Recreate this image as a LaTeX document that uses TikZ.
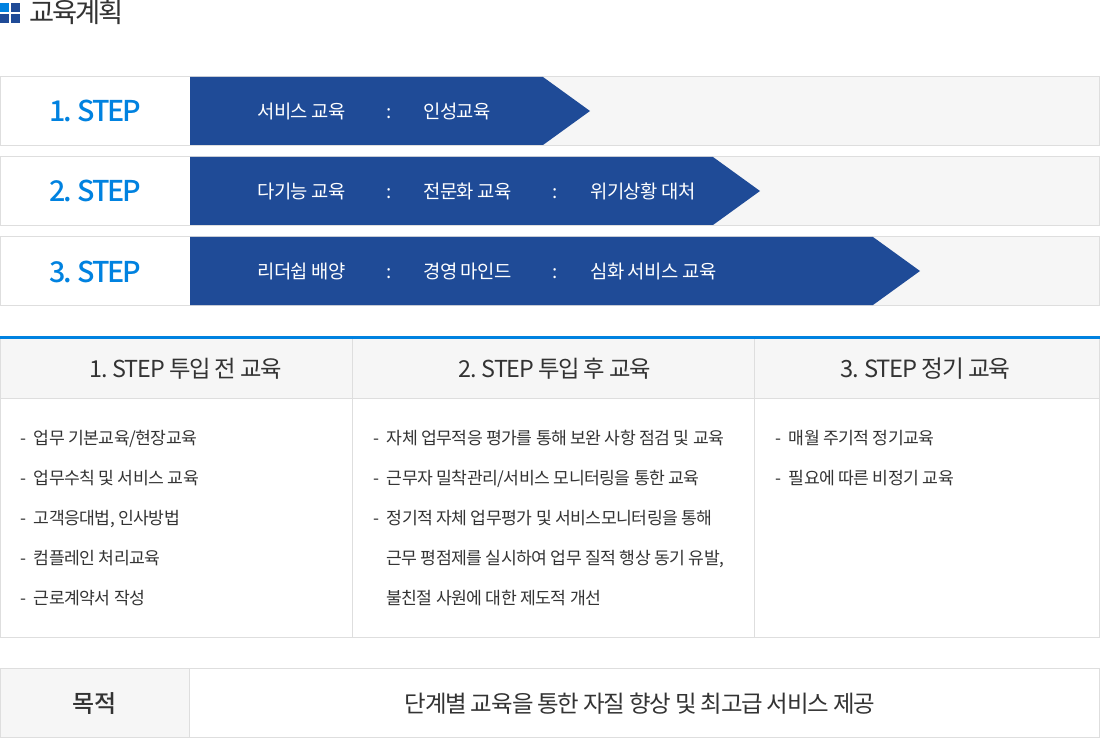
\documentclass[tikz,border=0pt]{standalone}
\usepackage{fontspec}
\setmainfont{Noto Sans CJK KR}
\newfontfamily\kr[LetterSpace=-3]{Noto Sans CJK KR}
\newfontfamily\krt[LetterSpace=-4.5,WordSpace=0.9]{Noto Sans CJK KR}
\newfontfamily\krh[LetterSpace=-8]{Noto Sans CJK KR}
\newfontfamily\krs[LetterSpace=-7,WordSpace=0.75]{Noto Sans CJK KR Medium}
\newfontfamily\krm[LetterSpace=-3]{Noto Sans CJK KR Medium}
\definecolor{navy}{HTML}{1F4B97}
\definecolor{sky}{HTML}{0082E0}
\definecolor{edge}{HTML}{DEDEDE}
\definecolor{pale}{HTML}{F6F6F6}
\definecolor{ink}{HTML}{333333}
\newcommand{\dsh}{-\hspace{5.6pt}}
\tikzset{
 txt/.style={inner sep=0pt,text=ink,font=\kr\fontsize{12.9}{14}\selectfont},
 ltxt/.style={txt,anchor=base west},
 wtxt/.style={ltxt,text=white,font=\kr\fontsize{14.1}{15}\selectfont},
 steplabel/.style={inner sep=0pt,text=sky,anchor=base,font=\krs\fontsize{21.5}{24}\selectfont},
 headlabel/.style={inner sep=0pt,text=ink,anchor=base,font=\krt\fontsize{17.5}{20}\selectfont},
 frame/.style={draw=edge,line width=0.75pt},
 bar/.style={fill=navy,draw=none},
}
\begin{document}
\begin{tikzpicture}[x=0.75pt,y=-0.75pt]
\useasboundingbox (0,0) rectangle (1100,738);
% title icon
\fill[sky] (0,3) rectangle (9,12);
\fill[navy] (11,3) rectangle (20,12);
\fill[navy] (0,14) rectangle (9,23);
\fill[navy] (11,14) rectangle (20,23);
\node[ltxt,font=\krh\fontsize{20.5}{24}\selectfont] (title) at (29,23) {교육계획};
% steps
\draw[frame,fill=pale] (0.5,76.5) rectangle (1099.5,145.5);
\fill[white] (1,77) rectangle (190,145);
\fill[bar] (190,77) -- (543,77) -- (590,111) -- (543,145) -- (190,145) -- cycle;
\node[steplabel] (s1) at (95.5,122) {1. STEP};
\node[wtxt] (s1a) at (257,118.5) {서비스 교육};
\node[wtxt] (s1c) at (386,118.5) {:};
\node[wtxt] (s1b) at (423,118.5) {인성교육};

\draw[frame,fill=pale] (0.5,156.5) rectangle (1099.5,225.5);
\fill[white] (1,157) rectangle (190,225);
\fill[bar] (190,157) -- (713,157) -- (760,191) -- (713,225) -- (190,225) -- cycle;
\node[steplabel] (s2) at (95.5,202) {2. STEP};
\node[wtxt] (s2a) at (257,198.5) {다기능 교육};
\node[wtxt] (s2c) at (386,198.5) {:};
\node[wtxt] (s2b) at (423,198.5) {전문화 교육};
\node[wtxt] (s2d) at (552,198.5) {:};
\node[wtxt] (s2e) at (590,198.5) {위기상황 대처};

\draw[frame,fill=pale] (0.5,236.5) rectangle (1099.5,305.5);
\fill[white] (1,237) rectangle (190,305);
\fill[bar] (190,237) -- (873,237) -- (920,271) -- (873,305) -- (190,305) -- cycle;
\node[steplabel] (s3) at (95.5,282) {3. STEP};
\node[wtxt] (s3a) at (257,278.5) {리더쉽 배양};
\node[wtxt] (s3c) at (386,278.5) {:};
\node[wtxt] (s3b) at (423,278.5) {경영 마인드};
\node[wtxt] (s3d) at (552,278.5) {:};
\node[wtxt] (s3e) at (590,278.5) {심화 서비스 교육};
% table
\fill[pale] (0,339) rectangle (1100,398);
\draw[frame] (0.5,339) -- (0.5,637.5) -- (1099.5,637.5) -- (1099.5,339);
\draw[frame] (0.5,398.5) -- (1099.5,398.5);
\draw[frame] (352.5,339) -- (352.5,637.5);
\draw[frame] (754.5,339) -- (754.5,637.5);
\fill[sky] (0,336) rectangle (1100,339);
\node[headlabel] (h1) at (185.5,377) {1. STEP 투입 전 교육};
\node[headlabel] (h2) at (554.5,377) {2. STEP 투입 후 교육};
\node[headlabel,font=\krt\fontsize{17.8}{20}\selectfont] (h3) at (925.5,377) {3. STEP 정기 교육};
\node[ltxt] (a1) at (20,444) {\dsh 업무 기본교육/현장교육};
\node[ltxt] (a2) at (20,484) {\dsh 업무수칙 및 서비스 교육};
\node[ltxt] (a3) at (20,524) {\dsh 고객응대법, 인사방법};
\node[ltxt] (a4) at (20,564) {\dsh 컴플레인 처리교육};
\node[ltxt] (a5) at (20,604) {\dsh 근로계약서 작성};
\node[ltxt] (b1) at (373,444) {\dsh 자체 업무적응 평가를 통해 보완 사항 점검 및 교육};
\node[ltxt] (b2) at (373,484) {\dsh 근무자 밀착관리/서비스 모니터링을 통한 교육};
\node[ltxt] (b3) at (373,524) {\dsh 정기적 자체 업무평가 및 서비스모니터링을 통해};
\node[ltxt] (b4) at (386,564) {근무 평점제를 실시하여 업무 질적 행상 동기 유발,};
\node[ltxt] (b5) at (386,604) {불친절 사원에 대한 제도적 개선};
\node[ltxt] (c1) at (775,444) {\dsh 매월 주기적 정기교육};
\node[ltxt] (c2) at (775,484) {\dsh 필요에 따른 비정기 교육};
% purpose
\draw[frame] (0.5,668.5) rectangle (1099.5,737.5);
\draw[frame,fill=pale] (0.5,668.5) rectangle (189.5,737.5);
\node[headlabel,font=\krm\fontsize{18}{20}\selectfont] (p1) at (94.5,712) {목적};
\node[headlabel,font=\krt\fontsize{17.6}{20}\selectfont] (p2) at (640,712) {단계별 교육을 통한 자질 향상 및 최고급 서비스 제공};
\end{tikzpicture}
\end{document}
